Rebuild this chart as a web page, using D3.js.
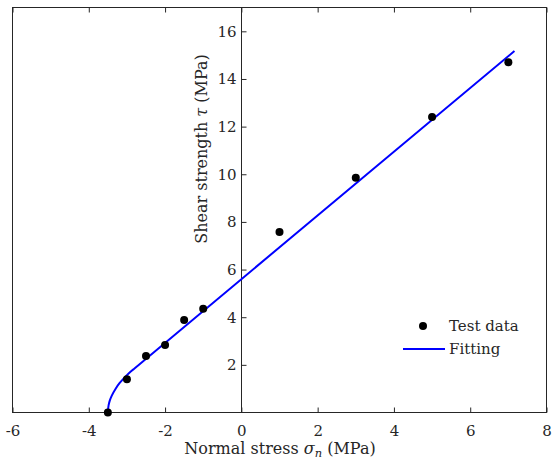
<!DOCTYPE html>
<html>
<head>
<meta charset="utf-8">
<script src="https://cdn.jsdelivr.net/npm/d3@7"></script>
<style>
  body { margin: 0; background: #fff; }
  text { font-family: "DejaVu Serif", "Liberation Serif", serif; fill: #262626; }
</style>
</head>
<body>
<svg id="chart" width="552" height="460"></svg>
<script>
// test data (normal stress, shear strength)
const testSigma = [-3.5, -3, -2.5, -2, -1.5, -1, 1, 3, 5, 7];
const testTau = [0, 1.4, 2.37, 2.83, 3.88, 4.35, 7.58, 9.85, 12.4, 14.7];

// fitting curve
const fitSigma = [-3.5, -3.48, -3.45, -3.4, -3.3, -3.2, -3.1, -3.0, -2.9, -2.81, 7.16];
const fitTau = [0, 0.31, 0.5, 0.7, 0.99, 1.22, 1.4, 1.57, 1.72, 1.84, 15.17];

const xTicks = [-6, -4, -2, 0, 2, 4, 6, 8];
const yTicks = [2, 4, 6, 8, 10, 12, 14, 16];

const LEFT = 12.5, RIGHT = 546.5, TOP = 7.5, BOTTOM = 412.5;
const FONT = '15px';
const LABEL_FONT = '16px';

let svg = d3.select('#chart');

let xScale = d3.scaleLinear().domain([-6, 8]).range([LEFT, RIGHT]);
let yScale = d3.scaleLinear().domain([0, 17]).range([BOTTOM, TOP]);

// box
svg.append('rect')
    .attr('x', LEFT).attr('y', TOP)
    .attr('width', RIGHT - LEFT).attr('height', BOTTOM - TOP)
    .attr('fill', 'none').attr('stroke', '#262626').attr('stroke-width', 1);

// bottom axis, ticks pointing in
let xAxis = svg.append('g')
    .attr('transform', 'translate(0,' + BOTTOM + ')')
    .call(d3.axisBottom(xScale).tickValues(xTicks).tickSizeInner(-5).tickSizeOuter(0));
xAxis.select('.domain').remove();
xAxis.selectAll('line').attr('stroke', '#262626');
xAxis.selectAll('text').attr('y', 23).attr('dy', null).style('font-size', FONT)
    .text(d => d < 0 ? '-' + (-d) : d);

// top ticks
let xTop = svg.append('g')
    .attr('transform', 'translate(0,' + TOP + ')')
    .call(d3.axisTop(xScale).tickValues(xTicks).tickSizeInner(-5).tickSizeOuter(0).tickFormat(''));
xTop.select('.domain').remove();
xTop.selectAll('line').attr('stroke', '#262626');

// y axis through origin
let yAxis = svg.append('g')
    .attr('transform', 'translate(' + Math.round(xScale(0)) + '.5,0)')
    .call(d3.axisLeft(yScale).tickValues(yTicks).tickSizeInner(-5).tickSizeOuter(0));
yAxis.select('.domain').attr('stroke', '#262626').attr('d', 'M0,' + TOP + 'V' + BOTTOM);
yAxis.selectAll('line').attr('stroke', '#262626');
yAxis.selectAll('text').attr('x', -5).style('font-size', FONT);

// fitting curve
let line = d3.line()
    .x((d, i) => xScale(fitSigma[i]))
    .y((d, i) => yScale(fitTau[i]))
    .curve(d3.curveMonotoneY);
svg.append('path')
    .attr('d', line(fitSigma))
    .attr('fill', 'none')
    .attr('stroke', '#0000ff')
    .attr('stroke-width', 2);

// test points
svg.append('g').selectAll('circle')
    .data(testSigma)
    .join('circle')
    .attr('cx', (d, i) => xScale(d))
    .attr('cy', (d, i) => yScale(testTau[i]))
    .attr('r', 4)
    .attr('fill', '#000');

// labels
let xl = svg.append('text')
    .attr('x', 280).attr('y', 454)
    .attr('text-anchor', 'middle')
    .style('font-size', LABEL_FONT);
xl.append('tspan').text('Normal stress ');
xl.append('tspan').text('σ').style('font-style', 'italic');
xl.append('tspan').text('n').style('font-style', 'italic').style('font-size', '11.5px').attr('dy', 3);
xl.append('tspan').text(' (MPa)').attr('dy', -3);

let yl = svg.append('text')
    .attr('transform', 'translate(207,149) rotate(-90)')
    .attr('text-anchor', 'middle')
    .style('font-size', LABEL_FONT);
yl.append('tspan').text('Shear strength ');
yl.append('tspan').text('τ').style('font-style', 'italic');
yl.append('tspan').text(' (MPa)');

// legend
let legend = svg.append('g');
legend.append('circle').attr('cx', 423).attr('cy', 326).attr('r', 4).attr('fill', '#000');
legend.append('text').attr('x', 449).attr('y', 331).style('font-size', FONT).text('Test data');
legend.append('line').attr('x1', 403).attr('x2', 445).attr('y1', 349).attr('y2', 349)
    .attr('stroke', '#0000ff').attr('stroke-width', 2);
legend.append('text').attr('x', 449).attr('y', 354).style('font-size', FONT).text('Fitting');
</script>
</body>
</html>
